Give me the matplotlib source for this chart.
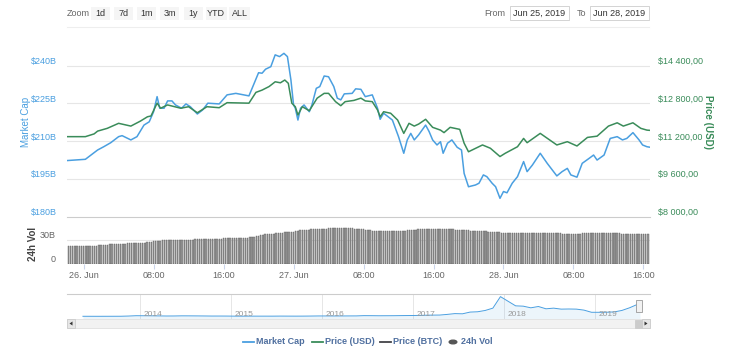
import numpy as np
import matplotlib.pyplot as plt
from matplotlib.patches import Rectangle, Circle, Polygon
from matplotlib.lines import Line2D

plt.rcParams['font.family'] = ['Liberation Sans', 'DejaVu Sans']

W, H = 736, 351

# --- data -------------------------------------------------------------
# hours since 26 Jun 2019 00:00
cap_hours = [-1.9, 0.2, 1.6, 2.3, 3.1, 4.0, 4.4, 5.4, 6.1, 6.9,
             7.5, 8.0, 8.4, 8.7, 9.2, 9.6, 10.1, 10.5, 11.2, 11.7,
             12.2, 13.0, 13.6, 14.2, 15.5, 16.4, 17.4, 18.9, 19.5, 20.0,
             20.4, 20.8, 21.4, 21.9, 22.4, 22.9, 23.3, 23.7, 24.0, 24.2,
             24.5, 24.8, 25.2, 25.8, 26.1, 26.6, 27.0, 27.5, 28.0, 28.6,
             29.0, 29.4, 29.8, 30.7, 31.1, 31.7, 32.2, 33.0, 33.6, 33.9,
             34.3, 35.3, 36.0, 36.6, 37.0, 37.4, 37.8, 38.3, 39.1, 39.5,
             39.9, 40.4, 40.8, 41.1, 41.6, 42.1, 42.7, 43.2, 43.5, 44.0,
             44.8, 45.2, 45.7, 46.1, 46.7, 47.1, 47.6, 48.0, 48.4, 49.0,
             49.6, 50.3, 50.7, 51.3, 52.2, 53.0, 54.1, 54.7, 55.3, 55.7,
             56.4, 57.0, 57.8, 58.3, 58.7, 59.5, 60.2, 61.0, 61.6, 62.1,
             62.8, 63.5, 63.9, 64.4, 64.75]
market_cap = [202.3, 202.8, 206.5, 207.8, 209.4, 211.8, 212.2, 210.5, 211.8, 216.4,
              217.7, 221.7, 227.7, 223.1, 223.1, 226.0, 226.0, 224.4, 223.1, 224.8,
              223.7, 220.8, 222.4, 225.1, 224.8, 228.4, 229.0, 228.0, 233.0, 237.2,
              237.0, 238.6, 239.6, 244.3, 243.6, 244.9, 243.6, 234.3, 224.4, 223.1,
              218.4, 223.1, 224.4, 221.7, 224.4, 231.0, 231.7, 235.9, 235.6, 231.7,
              227.1, 226.4, 228.8, 229.0, 230.8, 230.6, 227.7, 228.4, 223.1, 218.7,
              221.1, 218.4, 211.8, 205.2, 210.5, 213.1, 210.5, 212.5, 216.4, 213.8,
              210.5, 208.5, 209.8, 205.2, 209.2, 210.5, 207.6, 206.5, 197.2, 191.9,
              192.6, 193.3, 196.6, 195.9, 193.3, 191.9, 187.3, 190.0, 189.5, 193.3,
              195.9, 201.9, 197.9, 200.5, 205.2, 201.2, 196.2, 197.9, 199.2, 196.6,
              195.7, 201.2, 203.2, 204.5, 202.5, 204.5, 211.1, 211.8, 210.5, 211.1,
              213.4, 210.5, 208.5, 207.8, 207.6]  # $B

price_hours = [-1.9, 0.2, 1.2, 1.6, 2.7, 4.0, 5.4, 6.5, 7.3, 7.7,
               8.4, 8.8, 9.6, 11.1, 12.0, 13.0, 14.1, 15.5, 16.4, 18.9,
               19.7, 20.4, 21.2, 21.9, 22.5, 23.0, 23.4, 23.8, 24.2, 24.5,
               25.0, 25.8, 26.7, 27.5, 28.0, 28.8, 29.4, 29.9, 30.9, 31.7,
               32.2, 33.0, 33.6, 33.9, 34.3, 35.1, 35.9, 36.6, 37.2, 37.8,
               38.3, 39.1, 39.9, 40.8, 41.2, 41.9, 43.0, 43.5, 44.0, 45.6,
               46.5, 47.6, 48.2, 49.6, 50.3, 50.7, 52.2, 54.1, 55.3, 56.4,
               57.6, 58.7, 60.0, 61.0, 61.7, 62.8, 63.7, 64.4, 64.75]
price_usd = [11392, 11392, 11509, 11627, 11744, 11957, 11840, 12053, 12235, 12267,
             12811, 12597, 12736, 12597, 12661, 12405, 12661, 12619, 12832, 12811,
             13269, 13365, 13515, 13717, 13675, 13792, 13653, 12811, 12661, 12309,
             12661, 12491, 13024, 13227, 13227, 12875, 12704, 12875, 12928, 13024,
             12907, 12875, 12523, 12235, 12448, 12384, 12096, 11531, 11957, 11840,
             11925, 12128, 11787, 11669, 11563, 11787, 11701, 11115, 10752, 11040,
             10901, 10549, 10688, 10965, 11317, 11136, 11531, 11040, 11179, 10997,
             11360, 11413, 11840, 11979, 11840, 11979, 11744, 11669, 11659]

# 24h volume, one bar every 15 minutes starting at 25 Jun 22:15
vol_start, vol_step = -1.75, 0.25
volume = [22.5, 22.5, 22.5, 22.5, 22.5, 22.5, 22.5, 22.6,
          22.6, 22.6, 22.7, 22.8, 22.9, 23.1, 23.3, 23.7,
          23.9, 24.1, 24.3, 24.5, 24.7, 24.9, 25.1, 25.3,
          25.4, 25.5, 25.6, 25.8, 25.9, 26.0, 26.1, 26.3,
          26.4, 26.5, 26.6, 26.7, 26.9, 27.5, 28.0, 28.5,
          29.0, 29.2, 29.3, 29.4, 29.5, 29.6, 29.8, 29.9,
          30.0, 30.0, 30.1, 30.2, 30.3, 30.4, 30.4, 30.5,
          30.6, 30.6, 30.7, 30.8, 30.8, 30.9, 31.0, 31.0,
          31.1, 31.2, 31.3, 31.4, 31.5, 31.6, 31.7, 31.9,
          32.1, 32.2, 32.3, 32.4, 32.5, 32.6, 32.7, 32.8,
          32.9, 33.0, 33.1, 33.2, 33.3, 33.6, 34.5, 35.5,
          36.3, 36.6, 36.9, 37.2, 37.5, 37.8, 38.1, 38.5,
          38.7, 38.9, 39.1, 39.4, 39.6, 39.9, 40.1, 40.4,
          40.9, 41.4, 41.9, 42.2, 42.5, 42.7, 43.0, 43.3,
          43.5, 43.7, 43.8, 43.9, 44.0, 44.2, 44.3, 44.4,
          44.5, 44.6, 44.6, 44.6, 44.7, 44.7, 44.6, 44.6,
          44.6, 44.6, 44.6, 44.3, 44.1, 43.8, 43.6, 43.2,
          42.8, 42.5, 42.2, 41.8, 41.4, 41.3, 41.3, 41.2,
          41.3, 41.2, 41.3, 41.2, 41.3, 41.2, 41.3, 41.2,
          41.3, 41.4, 41.7, 42.0, 42.3, 42.6, 42.9, 43.1,
          43.2, 43.3, 43.4, 43.4, 43.5, 43.5, 43.6, 43.6,
          43.6, 43.7, 43.7, 43.7, 43.7, 43.7, 43.6, 43.5,
          43.3, 43.1, 42.9, 42.7, 42.5, 42.3, 42.1, 41.9,
          41.7, 41.6, 41.5, 41.3, 41.2, 41.1, 40.9, 40.8,
          40.6, 40.5, 40.4, 40.2, 39.8, 39.4, 38.8, 38.3,
          38.4, 38.5, 38.6, 38.7, 38.8, 38.9, 39.0, 39.1,
          39.2, 39.2, 39.2, 39.1, 39.1, 39.0, 38.9, 38.9,
          38.8, 38.7, 38.7, 38.6, 38.5, 38.4, 38.3, 38.3,
          38.2, 38.2, 38.1, 38.0, 37.9, 37.8, 37.7, 37.6,
          37.6, 37.5, 38.0, 38.5, 39.0, 39.2, 39.2, 39.2,
          39.1, 39.0, 39.0, 38.9, 38.9, 38.8, 38.8, 38.7,
          38.6, 38.5, 38.4, 38.3, 38.2, 38.0, 37.9, 37.8,
          37.7, 37.6, 37.5, 37.4, 37.3, 37.3, 37.2, 37.2,
          37.1, 37.1]  # $B

# navigator: mid-month market cap ($B) since May 2013
nav_start = 2013 + 4.5 / 12
nav_cap = [1.3, 1.2, 1.0, 1.3, 1.5, 1.8, 5, 10,
           9.5, 8.5, 7, 5.5, 6, 8, 7.7, 7, 6, 4.8, 5, 4.5,
           3.5, 3.2, 3.6, 3.4, 3.4, 3.3, 4.2, 3.8, 3.5, 3.8, 4.8, 6.2,
           6.3, 6, 6.3, 6.7, 7, 11, 10.5, 9.3, 9.7, 10.2, 11.8, 12.8,
           14, 17, 19, 20, 30, 42, 39, 65, 70, 90, 125, 300,
           230, 160, 155, 130, 150, 115, 125, 110, 112, 110, 95, 62,
           62, 63, 68, 90, 130, 180]
nav_end_year, nav_end_cap = 2019.49, 205
nav_years = [2014, 2015, 2016, 2017, 2018, 2019]

tick_hours = [0, 8, 16, 24, 32, 40, 48, 56, 64]
tick_labels = ['26. Jun', '08:00', '16:00', '27. Jun', '08:00', '16:00',
               '28. Jun', '08:00', '16:00']
cap_ticks = [180, 195, 210, 225, 240]
cap_labels = ['$180B', '$195B', '$210B', '$225B', '$240B']
price_ticks = [8000, 9600, 11200, 12800, 14400]
price_labels = ['$8 000,00', '$9 600,00', '$11 200,00', '$12 800,00', '$14 400,00']
vol_ticks = [0, 30]
vol_labels = ['0', '30B']
zoom_buttons = ['1d', '7d', '1m', '3m', '1y', 'YTD', 'ALL']

# --- style --------------------------------------------------------------
BLUE = '#4a9fe0'
GREEN = '#3a8c5a'
GRID = '#e6e6e6'
TXT = '#666666'
LEG = '#4f6f9f'
FS = 6.5


def fx(p):
    return p / W


def fy(p):
    return 1 - p / H


fig = plt.figure(figsize=(W / 100, H / 100), dpi=100)

# main pane
ax = fig.add_axes([fx(67), fy(216.7), 583 / W, (216.7 - 40) / H])
ax.set_xlim(-1.9, 64.75)
cap_top = 250.2
ax.set_ylim(180, cap_top)
ax.plot(cap_hours, market_cap, color=BLUE, lw=1.1)
for v in cap_ticks[1:]:
    ax.axhline(v, color=GRID, lw=0.8, zorder=0)
for v, lab in zip(cap_ticks, cap_labels):
    ax.annotate(lab, xy=(0, v), xycoords=('axes fraction', 'data'),
                xytext=(-7.5, 3), textcoords='offset points',
                ha='right', va='center', fontsize=FS, color=BLUE)
ax.set_xticks([])
ax.set_yticks([])
for s in ax.spines.values():
    s.set_visible(False)

ax2 = ax.twinx()
ax2.set_ylim(8000, 8000 + (cap_top - 180) * 1600 / 15)
ax2.plot(price_hours, price_usd, color=GREEN, lw=1.1)
for v, lab in zip(price_ticks, price_labels):
    ax2.annotate(lab, xy=(1, v), xycoords=('axes fraction', 'data'),
                 xytext=(5.8, 3), textcoords='offset points',
                 ha='left', va='center', fontsize=FS, color=GREEN)
ax2.set_yticks([])
for s in ax2.spines.values():
    s.set_visible(False)

fig.text(fx(26), fy(121.7), 'Market Cap', rotation=90, color=BLUE,
         fontsize=7, ha='center', va='center')
fig.text(fx(708), fy(121.7), 'Price (USD)', rotation=270, color=GREEN,
         fontsize=7, fontweight='bold', ha='center', va='center')

# volume pane
axv = fig.add_axes([fx(67), fy(264), 583 / W, (264 - 216.7) / H])
axv.set_xlim(-1.9, 64.75)
axv.set_ylim(0, (264 - 216.7) * 1.25)
vol_t = vol_start + vol_step * np.arange(len(volume))
axv.axhline(30, color=GRID, lw=0.8, zorder=0)
axv.bar(vol_t, volume, width=0.16, color='#999999', edgecolor='#5e5e5e',
        linewidth=0.3, zorder=2)
axv.set_xticks(tick_hours, tick_labels)
axv.tick_params(axis='x', length=3.6, color='#ccd6eb', labelsize=FS,
                labelcolor=TXT, pad=1.5)
axv.set_yticks([])
for v, lab in zip(vol_ticks, vol_labels):
    axv.annotate(lab, xy=(0, v), xycoords=('axes fraction', 'data'),
                 xytext=(-8.5, 3), textcoords='offset points',
                 ha='right', va='center', fontsize=FS, color=TXT)
for k in ['left', 'right', 'bottom']:
    axv.spines[k].set_visible(False)
axv.spines['top'].set_color('#cccccc')
axv.spines['top'].set_linewidth(0.8)
fig.text(fx(33), fy(244), '24h Vol', rotation=90, color='#444444',
         fontsize=7, fontweight='bold', ha='center', va='center')

# navigator
axn = fig.add_axes([fx(67), fy(319), 583 / W, 25 / H])
nav_t = list(nav_start + np.arange(len(nav_cap)) / 12) + [nav_end_year]
nav_v = nav_cap + [nav_end_cap]
axn.set_xlim(2013.2, 2019.6)
axn.set_ylim(-40, 340)
axn.fill_between(nav_t, nav_v, -40, color=BLUE, alpha=0.1, lw=0)
axn.plot(nav_t, nav_v, color=BLUE, lw=0.7)
for yr in nav_years:
    axn.axvline(yr, color=GRID, lw=0.7, zorder=0)
    axn.annotate(str(yr), xy=(yr, 0.2), xycoords=('data', 'axes fraction'),
                 xytext=(2.5, 0), textcoords='offset points',
                 ha='left', va='center', fontsize=6, color='#999999')
axn.set_xticks([])
axn.set_yticks([])
for k in ['left', 'right', 'bottom']:
    axn.spines[k].set_visible(False)
axn.spines['top'].set_color('#cccccc')
axn.spines['top'].set_linewidth(0.8)


def frect(x0, y0, x1, y1, **kw):
    fig.add_artist(Rectangle((fx(x0), fy(y1)), (x1 - x0) / W, (y1 - y0) / H,
                             transform=fig.transFigure, **kw))


# navigator handle
frect(636, 300, 641.5, 312, facecolor='#f2f2f2', edgecolor='#999999', lw=0.6)

# scrollbar
frect(67, 319, 650, 328, facecolor='#f2f2f2', edgecolor='#e0e0e0', lw=0.6)
frect(67, 319, 75, 328, facecolor='#e6e6e6', edgecolor='#cccccc', lw=0.6)
frect(642, 319, 650, 328, facecolor='#e6e6e6', edgecolor='#cccccc', lw=0.6)
frect(635, 319.5, 642, 327.5, facecolor='#cccccc', edgecolor='#cccccc', lw=0.6)
for pts in ([(72.5, 321.5), (72.5, 325.5), (69.5, 323.5)],
            [(644.5, 321.5), (644.5, 325.5), (647.5, 323.5)]):
    fig.add_artist(Polygon([(fx(a), fy(b)) for a, b in pts], closed=True,
                           transform=fig.transFigure, color='#333333', lw=0))

# legend
legend_items = [('Market Cap', BLUE, 'line', 243),
                ('Price (USD)', GREEN, 'line', 312),
                ('Price (BTC)', '#434348', 'line', 380),
                ('24h Vol', '#555555', 'dot', 449)]
for name, col, kind, x0 in legend_items:
    if kind == 'line':
        fig.add_artist(Line2D([fx(x0), fx(x0 + 11)], [fy(342), fy(342)],
                              transform=fig.transFigure, color=col, lw=1.3))
        tx = x0 + 13
    else:
        fig.add_artist(Circle((fx(x0 + 4), fy(342)), 3.8 / W,
                              transform=fig.transFigure, color=col))
        tx = x0 + 12
    fig.text(fx(tx), fy(342), name, fontsize=FS, fontweight='bold',
             color=LEG, ha='left', va='center')

# toolbar
fig.text(fx(67), fy(13), 'Zoom', fontsize=FS, color=TXT, va='center')
button_x = [100, 123.5, 146.5, 169.5, 193, 216, 239.5]
for bx, lab in zip(button_x, zoom_buttons):
    bw = 21 if len(lab) > 2 else 19
    frect(bx - bw / 2, 7, bx + bw / 2, 19.5, facecolor='#f5f5f5',
          edgecolor='none')
    fig.text(fx(bx), fy(13), lab, fontsize=FS, color='#333333',
             ha='center', va='center')

fig.text(fx(505), fy(13), 'From', fontsize=FS, color=TXT, ha='right', va='center')
frect(510, 6, 569, 19.5, facecolor='white', edgecolor='#cccccc', lw=0.6)
fig.text(fx(539.5), fy(13), 'Jun 25, 2019', fontsize=FS, color='#333333',
         ha='center', va='center')
fig.text(fx(586), fy(13), 'To', fontsize=FS, color=TXT, ha='right', va='center')
frect(590, 6, 649, 19.5, facecolor='white', edgecolor='#cccccc', lw=0.6)
fig.text(fx(619.5), fy(13), 'Jun 28, 2019', fontsize=FS, color='#333333',
         ha='center', va='center')
fig.add_artist(Line2D([fx(67), fx(649)], [fy(27), fy(27)],
                      transform=fig.transFigure, color='#eeeeee', lw=0.8))

fig.savefig('out.png', dpi=100)
